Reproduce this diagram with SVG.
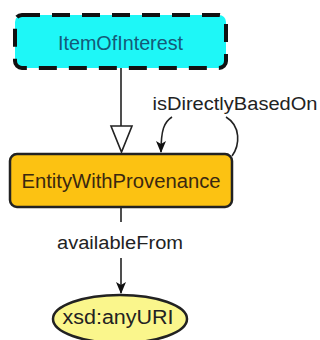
<svg xmlns="http://www.w3.org/2000/svg" width="320" height="340" viewBox="0 0 320 340">
  <style>
    text { font-family: "Liberation Sans", Arial, sans-serif; text-anchor: middle; }
    .lbl { font-size: 18px; fill: #222; }
    .node { font-size: 20px; }
    .edge { fill: none; stroke: #222; stroke-width: 1.6; }
  </style>
  <defs>
    <marker id="arrow" viewBox="0 0 12 10" refX="11" refY="5" markerWidth="12" markerHeight="10" markerUnits="userSpaceOnUse" orient="auto">
      <path d="M0,0 L12,5 L0,10 L3,5 z" fill="#111"/>
    </marker>
  </defs>
  <rect width="320" height="340" fill="#ffffff"/>

  <g id="connectors">
    <g id="e-subclass">
      <line class="edge" x1="121" y1="68" x2="121" y2="126"/>
      <polygon points="111,126 132,126 121.5,152" fill="#ffffff" stroke="#222" stroke-width="1.6"/>
    </g>
    <g id="e-isDirectlyBasedOn">
      <path class="edge" d="M232,156 C240,145 241,126 226,117"/>
      <path class="edge" d="M172,117 C164,122 161,130 161,152" marker-end="url(#arrow)"/>
      <text class="lbl" x="235" y="110" textLength="165" lengthAdjust="spacingAndGlyphs">isDirectlyBasedOn</text>
    </g>
    <g id="e-availableFrom">
      <line class="edge" x1="121" y1="207" x2="121" y2="222"/>
      <line class="edge" x1="121" y1="258" x2="121" y2="293" marker-end="url(#arrow)"/>
      <text class="lbl" x="120" y="249" textLength="126" lengthAdjust="spacingAndGlyphs">availableFrom</text>
    </g>
  </g>

  <g id="node-ItemOfInterest">
    <rect x="15" y="15" width="211" height="53" rx="7" fill="#1ef7f7" stroke="#111" stroke-width="4" stroke-dasharray="18,12"/>
    <text class="node" x="120.5" y="50" fill="#145a78" textLength="125" lengthAdjust="spacingAndGlyphs">ItemOfInterest</text>
  </g>

  <g id="node-EntityWithProvenance">
    <rect x="10" y="154" width="222" height="53" rx="7" fill="#fcc212" stroke="#222" stroke-width="2.5"/>
    <text class="node" x="121" y="188" fill="#3a2810" textLength="199" lengthAdjust="spacingAndGlyphs">EntityWithProvenance</text>
  </g>

  <g id="node-anyURI">
    <ellipse cx="120" cy="319" rx="67" ry="24" fill="#faf68c" stroke="#222" stroke-width="2.5"/>
    <text class="node" x="118" y="324" fill="#222" textLength="111" lengthAdjust="spacingAndGlyphs">xsd:anyURI</text>
  </g>
</svg>
